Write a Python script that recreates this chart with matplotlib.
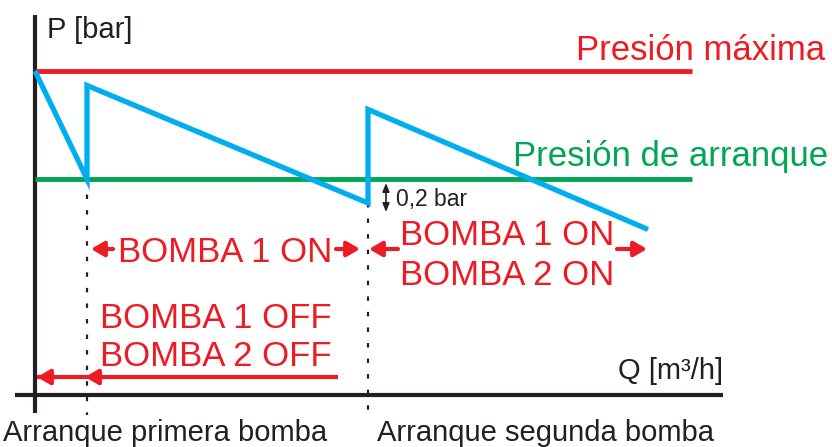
import numpy as np
import matplotlib.pyplot as plt

plt.rcParams['font.family'] = ['Liberation Sans', 'DejaVu Sans']

RED = '#ED1C24'
GREEN = '#00A651'
BLUE = '#00AEEF'
BLACK = '#231F20'

# pressure curve (Q in m3/h, P in bar)
q_curve = [0, 5.2, 5.2, 33.3, 33.3, 61.3]
p_curve = [2.7, 1.8, 2.58, 1.6, 2.38, 1.38]

p_max = 2.7        # presion maxima
p_arr = 1.8        # presion de arranque
q_line_end = 65.7
q_axis_end = 68.8
q_start1 = 5.2     # arranque primera bomba
q_start2 = 33.3    # arranque segunda bomba
p_low2 = 1.6

fig = plt.figure(figsize=(8.32, 4.47), dpi=100)
ax = fig.add_axes([0, 0, 1, 1])
ax.set_xlim(-3.5, 79.7)
ax.set_ylim(-0.433, 3.292)
ax.axis('off')

# axes
ax.plot([0, 0], [-0.15, 3.167], color=BLACK, lw=3, solid_capstyle='butt')
ax.plot([-2.0, q_axis_end], [0, 0], color=BLACK, lw=3, solid_capstyle='butt')

# reference pressures
ax.plot([0, q_line_end], [p_max, p_max], color=RED, lw=3.5, solid_capstyle='butt')
ax.plot([0, q_line_end], [p_arr, p_arr], color=GREEN, lw=3.5, solid_capstyle='butt')

# dotted start markers
ax.plot([q_start1, q_start1], [p_arr, -0.167], color=BLACK, lw=1.6,
        linestyle=(0, (2, 5)))
ax.plot([q_start2, q_start2], [p_low2, -0.15], color=BLACK, lw=1.6,
        linestyle=(0, (2, 5)))

# pressure curve
ax.plot(q_curve, p_curve, color=BLUE, lw=3.8, solid_joinstyle='miter',
        solid_capstyle='butt')

# labels
ax.text(1.2, 2.975, 'P [bar]', fontsize=21, color=BLACK, ha='left', va='baseline')
ax.text(q_axis_end, 0.133, 'Q [m³/h]', fontsize=21, color=BLACK, ha='right', va='baseline')
ax.text(79.0, 2.79, 'Presión máxima', fontsize=25, color=RED, ha='right', va='baseline')
ax.text(79.3, 1.908, 'Presión de arranque', fontsize=25, color=GREEN, ha='right', va='baseline')

# 0,2 bar
ax.annotate('', xy=(35.1, 1.525), xytext=(35.1, 1.767),
            arrowprops=dict(arrowstyle='<|-|>,head_length=0.5,head_width=0.2',
                            color=BLACK, lw=1.2, shrinkA=0, shrinkB=0))
ax.text(36.1, 1.575, '0,2 bar', fontsize=16.5, color=BLACK, ha='left', va='baseline')

red_arrow = dict(arrowstyle='-|>,head_length=0.55,head_width=0.32',
                 color=RED, lw=3, shrinkA=0, shrinkB=0, mutation_scale=14)

# bomba 1 on
ax.annotate('', xy=(5.6, 1.217), xytext=(7.8, 1.217), arrowprops=red_arrow)
ax.annotate('', xy=(32.5, 1.217), xytext=(30.1, 1.217), arrowprops=red_arrow)
ax.text(8.3, 1.108, 'BOMBA 1 ON', fontsize=25, color=RED, ha='left', va='baseline')

# bomba 1 + 2 on
ax.annotate('', xy=(33.4, 1.217), xytext=(36.3, 1.217), arrowprops=red_arrow)
ax.annotate('', xy=(61.2, 1.217), xytext=(58.2, 1.217), arrowprops=red_arrow)
ax.text(36.5, 1.25, 'BOMBA 1 ON', fontsize=25, color=RED, ha='left', va='baseline')
ax.text(36.5, 0.917, 'BOMBA 2 ON', fontsize=25, color=RED, ha='left', va='baseline')

# both off
ax.plot([0.2, 30.3], [0.15, 0.15], color=RED, lw=3, solid_capstyle='butt')
ax.annotate('', xy=(0.2, 0.15), xytext=(2.0, 0.15), arrowprops=red_arrow)
ax.annotate('', xy=(5.0, 0.15), xytext=(6.8, 0.15), arrowprops=red_arrow)
ax.text(6.5, 0.558, 'BOMBA 1 OFF', fontsize=25, color=RED, ha='left', va='baseline')
ax.text(6.5, 0.242, 'BOMBA 2 OFF', fontsize=25, color=RED, ha='left', va='baseline')

# bottom captions
ax.text(-3.2, -0.383, 'Arranque primera bomba', fontsize=21, color=BLACK,
        ha='left', va='baseline')
ax.text(34.2, -0.383, 'Arranque segunda bomba', fontsize=21, color=BLACK,
        ha='left', va='baseline')

fig.savefig('out.png', dpi=100)
